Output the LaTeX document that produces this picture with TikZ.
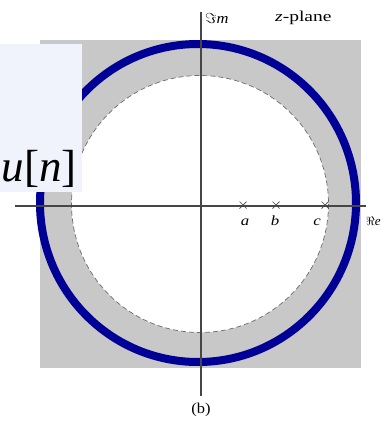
\documentclass[tikz,border=0pt]{standalone}
\usepackage{fontspec}
\setmainfont{Liberation Serif}
\usepackage{graphicx}
\definecolor{plane}{RGB}{200,200,200}
\definecolor{roc}{RGB}{0,0,150}
\definecolor{boxbg}{RGB}{240,242,252}
\definecolor{axis}{RGB}{70,70,70}
\begin{document}
\begin{tikzpicture}[x=1pt,y=-1pt,
  axisline/.style={draw=axis,line width=1.1pt},
  zeromark/.style={draw=axis,line width=0.7pt},
  lbl/.style={inner sep=0pt,font=\fontsize{15}{15}\selectfont},
  ptlbl/.style={inner sep=0pt,font=\fontsize{14}{14}\selectfont\itshape}]
\useasboundingbox (0,0) rectangle (385,426);
% plane
\fill[plane] (40,40) rectangle (361,368);
% inner white disk with dashed boundary
\fill[white] (200,204) circle[radius=128.5];
\draw[axis!80,line width=0.7pt,dash pattern=on 5pt off 3pt] (200,204) circle[radius=128.5];
% unit circle
\draw[roc,line width=8pt] (198,203) ellipse[x radius=158,y radius=159];
% axes
\coordinate (xl) at (15,206);
\coordinate (xr) at (366,206);
\coordinate (yt) at (201,12);
\coordinate (yb) at (201,396);
\draw[axisline] (xl) -- (xr);
\draw[axisline] (yt) -- (yb);
% zeros / poles
\foreach \n/\x in {pa/243,pb/276,pc/325}{
  \coordinate (\n) at (\x,205);
  \draw[zeromark] ([shift={(-3.5,-3.5)}]\n) -- ([shift={(3.5,3.5)}]\n)
                   ([shift={(-3.5,3.5)}]\n) -- ([shift={(3.5,-3.5)}]\n);
}
\node[ptlbl] (la) at (245,222) {\scalebox{1.2}[1]{a}};
\node[ptlbl] (lb) at (275,221) {\scalebox{1.2}[1]{b}};
\node[ptlbl] (lc) at (317,222) {\scalebox{1.2}[1]{c}};
% overlay box
\fill[boxbg] (0,44) rectangle (82,192);
\node[anchor=base east,inner sep=0pt,font=\fontsize{45}{45}\selectfont] (un) at (77,181) {\textit{u}[\textit{n}]};
% labels
\node[lbl,anchor=west] (im) at (205,18) {\scalebox{1.1}[1]{$\Im\mathit{m}$}};
\node[lbl,anchor=west] (zp) at (275,18) {\scalebox{1.3}[1]{\textit{z}-plane}};
\node[inner sep=0pt,font=\fontsize{13}{13}\selectfont,anchor=west] (re) at (366,221) {$\Re\mathit{e}$};
\node[lbl] (cap) at (201,410) {\scalebox{1.1}[1]{(b)}};
\end{tikzpicture}
\end{document}
